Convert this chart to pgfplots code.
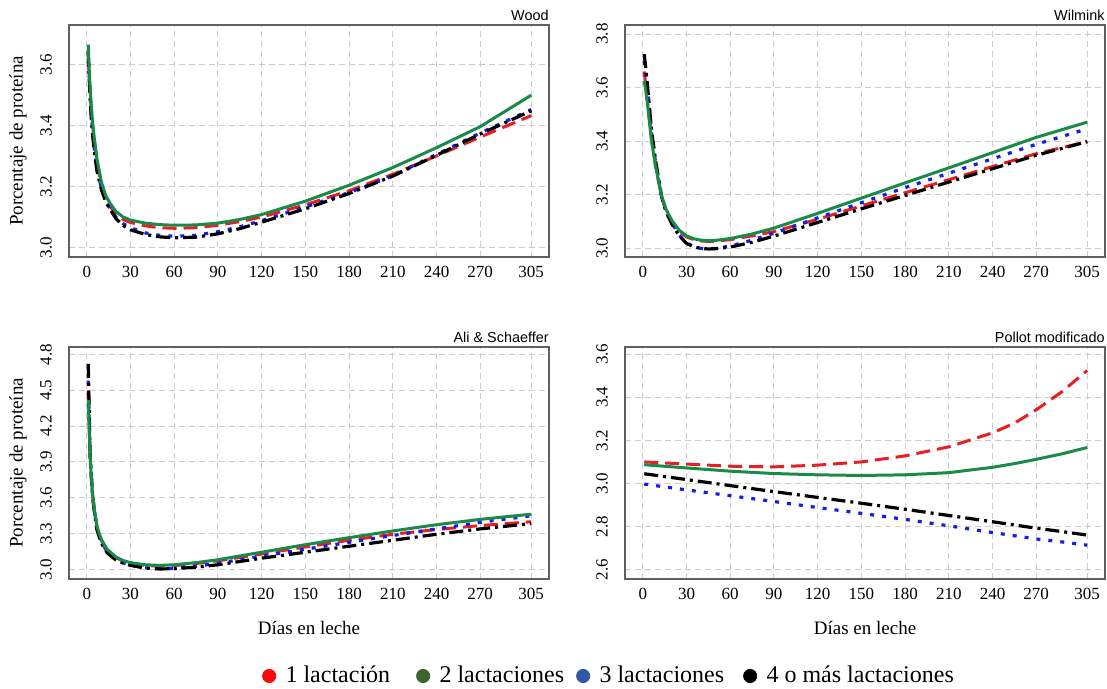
\documentclass[border=0pt]{standalone}
\usepackage{pgfplots}
\pgfplotsset{compat=1.18}
\usepackage{pgfplotstable}
\usepackage{fontspec}
\setmainfont{Liberation Serif}
\setsansfont{Liberation Sans}

\definecolor{cred}{RGB}{232,30,34}
\definecolor{cgreen}{RGB}{26,138,72}
\definecolor{cblue}{RGB}{20,30,235}
\definecolor{lred}{RGB}{250,10,10}
\definecolor{lgreen}{RGB}{58,100,42}
\definecolor{lblue}{RGB}{48,88,168}

% Wood
\pgfplotstableread{
t r g b k
1 3.620 3.665 3.645 3.640
1.5 3.570 3.600 3.580 3.570
2 3.530 3.550 3.530 3.520
3 3.460 3.470 3.450 3.430
4 3.400 3.410 3.380 3.370
5 3.355 3.365 3.330 3.320
7 3.280 3.290 3.260 3.250
10 3.205 3.215 3.195 3.190
13 3.160 3.170 3.155 3.150
16 3.135 3.145 3.128 3.125
20 3.108 3.118 3.100 3.095
25 3.092 3.100 3.078 3.072
30 3.082 3.090 3.065 3.058
40 3.071 3.080 3.048 3.043
50 3.065 3.075 3.040 3.035
60 3.063 3.073 3.037 3.032
75 3.065 3.074 3.040 3.034
90 3.073 3.080 3.052 3.045
105 3.085 3.092 3.068 3.062
120 3.100 3.108 3.088 3.083
150 3.140 3.152 3.133 3.127
180 3.186 3.204 3.180 3.177
210 3.240 3.262 3.235 3.234
240 3.300 3.327 3.305 3.302
270 3.362 3.396 3.375 3.372
305 3.432 3.499 3.452 3.448
}\wood

% Wilmink
\pgfplotstableread{
t r g b k
1 3.660 3.625 3.700 3.725
2 3.610 3.590 3.650 3.675
3 3.560 3.550 3.610 3.620
4 3.510 3.500 3.560 3.560
6 3.410 3.400 3.430 3.440
9 3.300 3.300 3.310 3.320
13 3.190 3.193 3.190 3.190
16 3.140 3.145 3.140 3.135
20 3.098 3.103 3.095 3.090
25 3.062 3.067 3.048 3.046
30 3.042 3.046 3.020 3.018
35 3.032 3.035 3.005 3.005
40 3.027 3.030 2.999 2.999
45 3.025 3.028 2.997 2.997
50 3.026 3.029 2.999 2.998
60 3.032 3.036 3.008 3.004
75 3.046 3.053 3.030 3.022
90 3.062 3.075 3.056 3.045
120 3.108 3.130 3.113 3.096
150 3.158 3.187 3.170 3.147
180 3.207 3.244 3.226 3.197
210 3.256 3.300 3.280 3.247
240 3.305 3.357 3.334 3.297
270 3.353 3.414 3.388 3.347
305 3.398 3.471 3.446 3.398
}\wilmink

% Ali & Schaeffer
\pgfplotstableread{
t r g b k
1 4.500 4.420 4.580 4.720
1.5 4.300 4.250 4.350 4.430
2 4.060 4.050 4.080 4.100
2.5 3.900 3.900 3.900 3.900
3 3.800 3.800 3.800 3.800
4 3.630 3.630 3.620 3.620
5 3.520 3.520 3.510 3.500
7 3.355 3.360 3.340 3.330
10 3.245 3.250 3.230 3.220
14 3.165 3.170 3.150 3.140
20 3.100 3.105 3.085 3.080
25 3.070 3.075 3.055 3.055
30 3.052 3.058 3.038 3.035
40 3.033 3.040 3.015 3.012
50 3.028 3.035 3.008 3.005
60 3.033 3.040 3.010 3.007
75 3.050 3.058 3.028 3.020
90 3.073 3.082 3.053 3.040
120 3.130 3.145 3.112 3.095
150 3.190 3.208 3.170 3.145
180 3.245 3.267 3.228 3.195
210 3.295 3.323 3.285 3.245
240 3.335 3.375 3.340 3.295
270 3.368 3.420 3.395 3.340
305 3.400 3.463 3.450 3.385
}\ali

% Pollot modificado
\pgfplotstableread{
t r g b k
1 3.100 3.087 2.997 3.045
30 3.090 3.072 2.970 3.018
60 3.080 3.057 2.943 2.990
90 3.077 3.046 2.916 2.962
120 3.085 3.040 2.888 2.935
150 3.100 3.037 2.861 2.908
180 3.128 3.040 2.833 2.880
210 3.170 3.050 2.803 2.851
240 3.235 3.075 2.772 2.822
255 3.280 3.092 2.757 2.807
270 3.342 3.112 2.742 2.792
288 3.428 3.138 2.728 2.776
305 3.525 3.167 2.713 2.760
}\pollot

\pgfplotsset{
  panel/.style={
    scale only axis, width=240pt, height=116pt,
    xmin=-12.2, xmax=317.2,
    xtick={0,30,60,90,120,150,180,210,240,270,305},
    grid=major,
    major grid style={densely dashed, gray!40, line width=0.5pt},
    axis line style={gray!75!black, line width=0.8pt},
    major tick length=0pt,
    tick label style={font=\rmfamily\fontsize{8.5}{10}\selectfont},
    /pgf/number format/assume math mode=true,
    yticklabel={\pgfmathprintnumber[fixed,fixed zerofill,precision=1]{\tick}},
    yticklabel style={xshift=-11.5pt, rotate=90, anchor=center},
    xticklabel style={anchor=north, yshift=-1pt},
    every axis title/.style={at={(1,1)}, anchor=base east, yshift=2.2pt, inner sep=0pt,
      font=\sffamily\fontsize{7.2}{8}\selectfont},
    every axis x label/.style={at={(0.5,0)}, anchor=center, yshift=-24.5pt,
      font=\fontsize{9.5}{11}\selectfont},
    every axis y label/.style={at={(0,0.5)}, xshift=-25.5pt, rotate=90, anchor=center,
      font=\fontsize{9.5}{11}\selectfont},
    clip=true,
  },
  sr/.style={color=cred, line width=1.5pt, dash pattern=on 7pt off 3.5pt, line join=round},
  sg/.style={color=cgreen, line width=1.5pt, line join=round},
  sb/.style={color=cblue, line width=1.6pt, dash pattern=on 2pt off 4pt, line join=round},
  sk/.style={color=black, line width=1.6pt, dash pattern=on 7pt off 2.5pt on 1.5pt off 2.5pt, line join=round},
}

\begin{document}
\begin{tikzpicture}
\useasboundingbox (0,0) rectangle (553.5pt,344.5pt);

% Wood
\begin{axis}[panel, at={(34.5pt,216pt)}, anchor=south west,
  ymin=2.969, ymax=3.729, ytick={3.0,3.2,3.4,3.6},
  title={Wood}, ylabel={Porcentaje de proteína}]
\addplot[sr] table[x=t,y=r] {\wood};
\addplot[sb] table[x=t,y=b] {\wood};
\addplot[sk] table[x=t,y=k] {\wood};
\addplot[sg] table[x=t,y=g] {\wood};
\end{axis}

% Wilmink
\begin{axis}[panel, at={(312.5pt,216pt)}, anchor=south west,
  ymin=2.967, ymax=3.834, ytick={3.0,3.2,3.4,3.6,3.8},
  title={Wilmink}]
\addplot[sr] table[x=t,y=r] {\wilmink};
\addplot[sb] table[x=t,y=b] {\wilmink};
\addplot[sk] table[x=t,y=k] {\wilmink};
\addplot[sg] table[x=t,y=g] {\wilmink};
\end{axis}

% Ali & Schaeffer
\begin{axis}[panel, at={(34.5pt,55pt)}, anchor=south west,
  ymin=2.921, ymax=4.862, ytick={3.0,3.3,3.6,3.9,4.2,4.5,4.8},
  title={Ali \& Schaeffer}, ylabel={Porcentaje de proteína}, xlabel={Días en leche}]
\addplot[sr] table[x=t,y=r] {\ali};
\addplot[sb] table[x=t,y=b] {\ali};
\addplot[sk] table[x=t,y=k] {\ali};
\addplot[sg] table[x=t,y=g] {\ali};
\end{axis}

% Pollot modificado
\begin{axis}[panel, at={(312.5pt,55pt)}, anchor=south west,
  ymin=2.556, ymax=3.634, ytick={2.6,2.8,3.0,3.2,3.4,3.6},
  title={Pollot modificado}, xlabel={Días en leche}]
\addplot[sr] table[x=t,y=r] {\pollot};
\addplot[sb] table[x=t,y=b] {\pollot};
\addplot[sk] table[x=t,y=k] {\pollot};
\addplot[sg] table[x=t,y=g] {\pollot};
\end{axis}

% Legend
\begin{axis}[at={(305pt,6.5pt)}, anchor=center, hide axis, scale only axis,
  width=10pt, height=10pt, xmin=0, xmax=1, ymin=0, ymax=1,
  legend columns=4,
  legend style={at={(0.5,0.5)}, anchor=center, draw=none, fill=none,
    font=\fontsize{12}{14}\selectfont,
    /tikz/every odd column/.append style={column sep=1pt}},
  legend cell align=left]
\addlegendimage{legend image code/.code={\fill[lred] (0pt,0pt) circle[radius=3.3pt]; \path (5pt,0pt);}}
\addlegendentry{1 lactación\rule{11pt}{0pt}}
\addlegendimage{legend image code/.code={\fill[lgreen] (0pt,0pt) circle[radius=3.3pt]; \path (5pt,0pt);}}
\addlegendentry{2 lactaciones\rule{4pt}{0pt}}
\addlegendimage{legend image code/.code={\fill[lblue] (0pt,0pt) circle[radius=3.3pt]; \path (5pt,0pt);}}
\addlegendentry{3 lactaciones\rule{7.5pt}{0pt}}
\addlegendimage{legend image code/.code={\fill[black] (0pt,0pt) circle[radius=3.3pt]; \path (5pt,0pt);}}
\addlegendentry{4 o más lactaciones}
\end{axis}
\end{tikzpicture}
\end{document}
